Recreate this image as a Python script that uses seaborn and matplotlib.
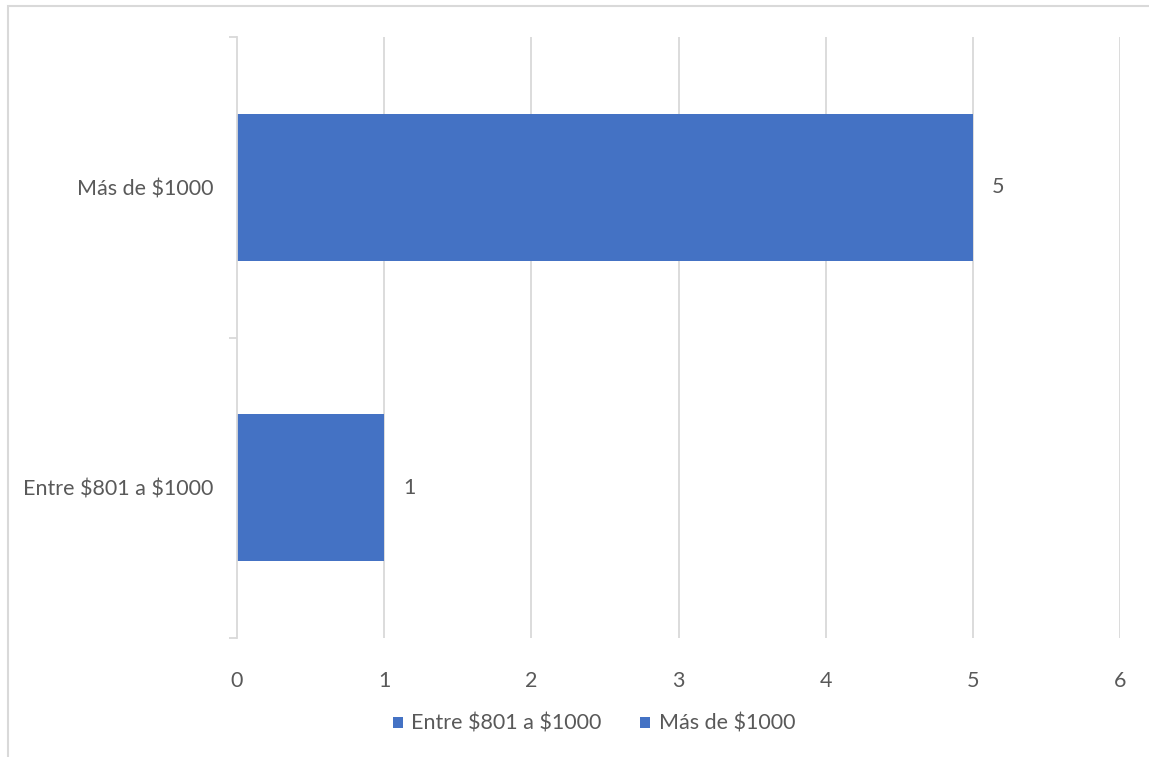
import matplotlib
matplotlib.use("Agg")
import matplotlib.pyplot as plt
import seaborn as sns
import pandas as pd
from matplotlib.patches import Rectangle, Patch

# data
categories = ["Más de $1000", "Entre $801 a $1000"]
counts = [5, 1]
legend_order = ["Entre $801 a $1000", "Más de $1000"]
x_ticks = [0, 1, 2, 3, 4, 5, 6]

BAR = "#4472C4"
GRID = "#D9D9D9"
TEXT = "#595959"
FS = 15.5

sns.set_theme(style="white")
plt.rcParams['font.family'] = ['Lato', 'DejaVu Sans']
plt.rcParams['text.parse_math'] = False  # keep the $ signs literal

df = pd.DataFrame({"categoria": categories, "valor": counts})

fig = plt.figure(figsize=(11.49, 7.57), dpi=100)
ax = fig.add_axes([237 / 1149, 1 - 638 / 757, (1120 - 237) / 1149, (638 - 37) / 757])

sns.barplot(data=df, y="categoria", x="valor", hue="categoria", order=categories,
            palette={c: BAR for c in categories}, dodge=False, width=0.49,
            legend=False, ax=ax, saturation=1, linewidth=0)

ax.set_xlim(0, 6)
ax.set_ylim(1.5, -0.5)
ax.set_xticks(x_ticks)
ax.set_xticklabels([str(t) for t in x_ticks])
ax.set_xlabel("")
ax.set_ylabel("")

for t in x_ticks[1:]:
    ax.axvline(t, color=GRID, lw=1.3, zorder=0)

for s in ["top", "right", "bottom"]:
    ax.spines[s].set_visible(False)
ax.spines["left"].set_color(GRID)
ax.spines["left"].set_linewidth(1.3)

# category boundary ticks on the y axis
ax.set_yticks([-0.5, 0.5, 1.5], minor=True)
ax.tick_params(axis="y", which="minor", length=6, color=GRID, width=1.3, left=True)
ax.tick_params(axis="y", which="major", length=0, pad=17, labelsize=FS, labelcolor=TEXT)
ax.tick_params(axis="x", length=0, pad=24, labelsize=FS, labelcolor=TEXT)

for c in ax.containers:
    ax.bar_label(c, padding=14, fontsize=FS, color=TEXT)

handles = [Patch(facecolor=BAR, edgecolor="none", label=l) for l in legend_order]
fig.legend(handles=handles, loc="center", bbox_to_anchor=(594 / 1149, 1 - 724 / 757),
           ncol=2, frameon=False, fontsize=FS, labelcolor=TEXT,
           handlelength=0.45, handleheight=0.45, handletextpad=0.4, columnspacing=1.8)

# chart area border (cropped at right/bottom)
fig.patches.append(Rectangle((8 / 1149, -0.1), 1.2, 1 - 6 / 757 + 0.1,
                             transform=fig.transFigure, fill=False,
                             edgecolor=GRID, lw=1.5))

fig.savefig("out.png", dpi=100)
